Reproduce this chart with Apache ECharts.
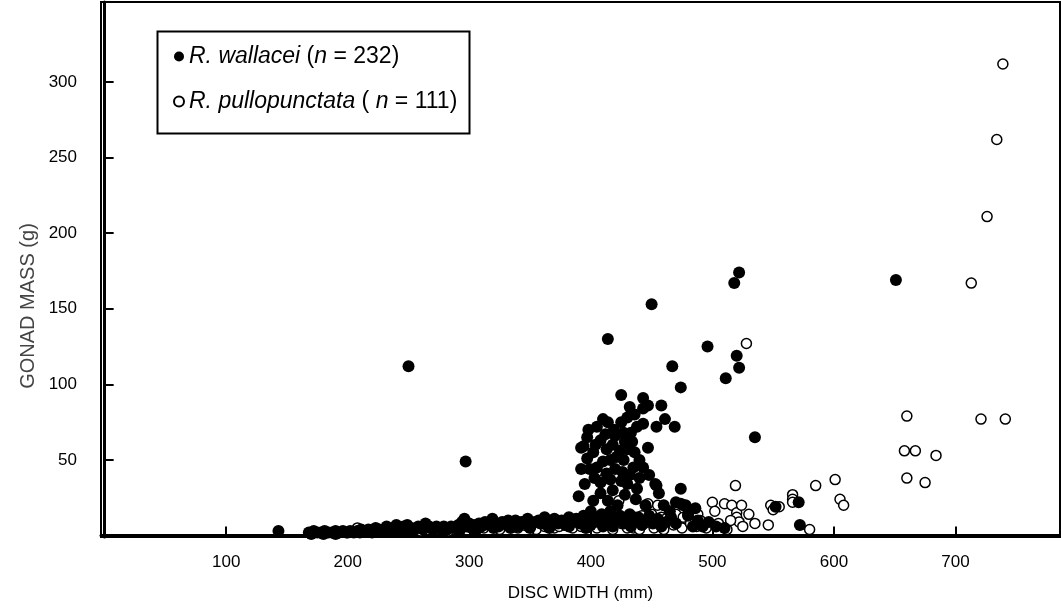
<!DOCTYPE html>
<html>
<head>
<meta charset="utf-8">
<script src="https://cdn.jsdelivr.net/npm/echarts@6/dist/echarts.min.js"></script>
<style>
html,body{margin:0;padding:0;background:#fff;}
#chart{width:1061px;height:611px;}
</style>
</head>
<body>
<div id="chart"></div>
<script>
// ---- data (disc width mm, gonad mass g) ----
const xTicks = [100, 200, 300, 400, 500, 600, 700];
const yTicks = [50, 100, 150, 200, 250, 300];

const wallaceiUpper = [
  [143,3],[250,112],[297,49],[414,130],[450,153],[522,174],[518,167],[496,125],[520,119],[522,111],
  [511,104],[467,112],[474,98],[651,169],[535,65],[458,86],[461,77],[469,72],[454,72],[447,86],
  [443,91],[443,84],[443,74],[425,93],[447,58],[443,45],[454,33],[474,31],[572,7],[571,22],[552,19]
];
const wallaceiCluster = [
  [410,77],[414,75],[425,75],[405,72],[397,65],[392,58],[397,51],[392,44],[399,44],[408,63],
  [413,57],[416,50],[421,52],[427,50],[430,57],[394,59],[405,45],[413,41],[408,35],[416,37],
  [425,36],[430,34],[438,31],[453,34],[408,28],[390,26],[414,23],[400,16],[416,16],[432,14],
  [420,66],[428,62],[433,68],[418,60],[402,55],[436,55],[435,45],[440,38],[420,44],[426,42],
  [432,40],[403,38],[418,30],[428,27],[437,24],[445,20],[422,20],[402,23],[395,34],[410,49],
  [424,56],[434,62],[438,72],[430,78],[419,70],[412,67],[404,60],[398,70],[432,85],[436,80],
  [427,68],[440,50],[448,40],[456,28],[460,20],[465,16],[470,22],[476,20],[480,13],[486,18]
];
const wallaceiBand = [
  [168,2],[172,3],[175,2],[178,2],[181,3],[184,2],[187,2],[190,3],[193,2],[196,3],
  [199,2],[202,3],[205,2],[208,3],[211,4],[214,3],[217,4],[220,3],[223,5],[226,4],
  [229,3],[232,6],[235,4],[238,5],[240,7],[243,4],[246,6],[249,7],[252,5],[255,4],
  [258,6],[261,5],[264,8],[267,6],[270,4],[273,6],[276,5],[279,6],[282,4],[285,6],
  [288,5],[291,7],[294,9],[296,11],[298,6],[300,8],[302,5],[305,7],[308,8],[310,6],
  [313,9],[316,7],[319,11],[321,8],[324,6],[327,9],[330,8],[332,10],[335,7],[338,10],
  [340,6],[343,9],[346,8],[348,11],[351,7],[354,9],[357,10],[360,8],[362,12],[365,6],
  [368,9],[370,11],[373,8],[376,10],[379,7],[382,12],[385,9],[388,11],[391,8],[394,13],
  [397,10],[400,7],[403,12],[406,9],[409,14],[412,8],[415,11],[418,6],[421,10],[424,13],
  [427,8],[430,11],[433,6],[436,9],[439,12],[442,7],[445,10],[448,13],[451,8],[455,11],
  [458,6],[462,9],[466,12],[470,8],[474,21],[478,20],[480,14],[484,6],[488,10],[492,6],
  [497,9],[503,6],[510,5],
  [170,1],[180,1],[190,1],[200,2],[210,2],[220,2],[236,3],[248,3],[262,4],[278,3],
  [292,3],[306,4],[320,5],[334,5],[350,5],[366,5],[382,6],[396,5],[410,6]
];

const pulloUpper = [
  [739,312],[734,262],[726,211],[713,167],[528,127],[660,79],[721,77],[741,77],[658,56],[667,56],
  [684,53],[660,38],[675,35],[519,33],[585,33],[601,37],[405,42]
];
const pulloLow = [
  [566,27],[566,24],[566,22],[605,24],[608,20],[447,21],[423,23],[450,14],[446,12],[438,9],[435,5],
  [488,14],[490,10],[487,6],[500,22],[502,16],[510,21],[516,20],[520,15],[520,12],[522,9],
  [524,20],[530,14],[548,20],[550,17],[546,7],[555,19],[580,4],
  [455,20],[458,12],[462,11],[466,13],[470,14],[476,12]
];
const pulloHidden = [
  [208,5],[215,3],[230,3],[245,4],[260,3],[275,4],[290,5],[300,6],[305,4],[312,5],
  [318,7],[325,4],[332,6],[340,5],[348,6],[355,4],[362,6],[370,5],[378,7],[385,5],
  [392,6],[398,8],[405,5],[412,7],[418,4],[425,8],[430,5],[440,4],[444,8],[452,5],
  [460,4],[468,7],[475,5],[482,8],[495,5],[505,8],[512,4],[515,10],[525,6],[535,8],
  [220,4],[238,5],[252,4],[268,5],[283,3],[295,7],[310,8],[322,6],[336,9],[345,7],
  [358,8],[366,9],[374,6],[388,9],[402,10],[410,12],[420,11],[428,10],[436,12],[442,13]
];

const wallacei = wallaceiUpper.concat(wallaceiCluster, wallaceiBand);
const pullopunctata = pulloUpper.concat(pulloLow, pulloHidden);

const FONT = 'Liberation Sans, Arial, Helvetica, sans-serif';

const chart = echarts.init(document.getElementById('chart'), null, {renderer: 'canvas'});
chart.setOption({
  animation: false,
  backgroundColor: '#fff',
  grid: {left: 101, right: 1, top: 2, bottom: 74, show: true, borderColor: '#000', borderWidth: 2, backgroundColor: 'transparent'},
  xAxis: {
    type: 'value', min: -3, max: 786,
    name: 'DISC WIDTH (mm)', nameLocation: 'middle', nameGap: 48,
    nameTextStyle: {fontFamily: FONT, fontSize: 17, color: '#000'},
    axisLine: {show: true, lineStyle: {color: '#000', width: 3}},
    axisTick: {show: true, inside: true, length: 9, lineStyle: {color: '#000', width: 2}, customValues: xTicks},
    axisLabel: {fontFamily: FONT, fontSize: 17, color: '#000', margin: 17, customValues: xTicks},
    splitLine: {show: false}
  },
  yAxis: {
    type: 'value', min: -1, max: 353,
    axisLine: {show: true, lineStyle: {color: '#000', width: 3}},
    axisTick: {show: true, inside: true, length: 9, lineStyle: {color: '#000', width: 2}, customValues: yTicks},
    axisLabel: {fontFamily: FONT, fontSize: 17, color: '#000', margin: 24, customValues: yTicks},
    splitLine: {show: false}
  },
  legend: {
    orient: 'vertical', left: 168, top: 40, itemGap: 22,
    itemWidth: 10, itemHeight: 10,
    data: [
      {name: 'wallacei', icon: 'circle'},
      {name: 'pullopunctata', icon: 'circle'}
    ],
    formatter: function (n) {
      return n === 'wallacei'
        ? '{i|R. wallacei} ({i|n} = 232)'
        : '{i|R. pullopunctata} ( {i|n} = 111)';
    },
    textStyle: {
      fontFamily: FONT, fontSize: 23, color: '#000',
      rich: {i: {fontFamily: FONT, fontSize: 23, fontStyle: 'italic', color: '#000'}}
    }
  },
  graphic: [
    {
      type: 'rect', left: 155, top: 29, z: 100,
      shape: {width: 312, height: 102},
      style: {fill: 'none', stroke: '#000', lineWidth: 2}
    },
    {
      type: 'text', x: 28, y: 306, rotation: Math.PI / 2, z: 100,
      style: {text: 'GONAD MASS (g)', fontFamily: FONT, fontSize: 20, fill: '#444', align: 'center', verticalAlign: 'middle'}
    }
  ],
  series: [
    {
      name: 'pullopunctata', type: 'scatter', data: pullopunctata, z: 2,
      symbol: 'circle', symbolSize: 10,
      itemStyle: {color: '#fff', borderColor: '#000', borderWidth: 1.5, opacity: 1}
    },
    {
      name: 'wallacei', type: 'scatter', data: wallacei, z: 3,
      symbol: 'circle', symbolSize: 12,
      itemStyle: {color: '#000', opacity: 1}
    }
  ]
});
</script>
</body>
</html>
